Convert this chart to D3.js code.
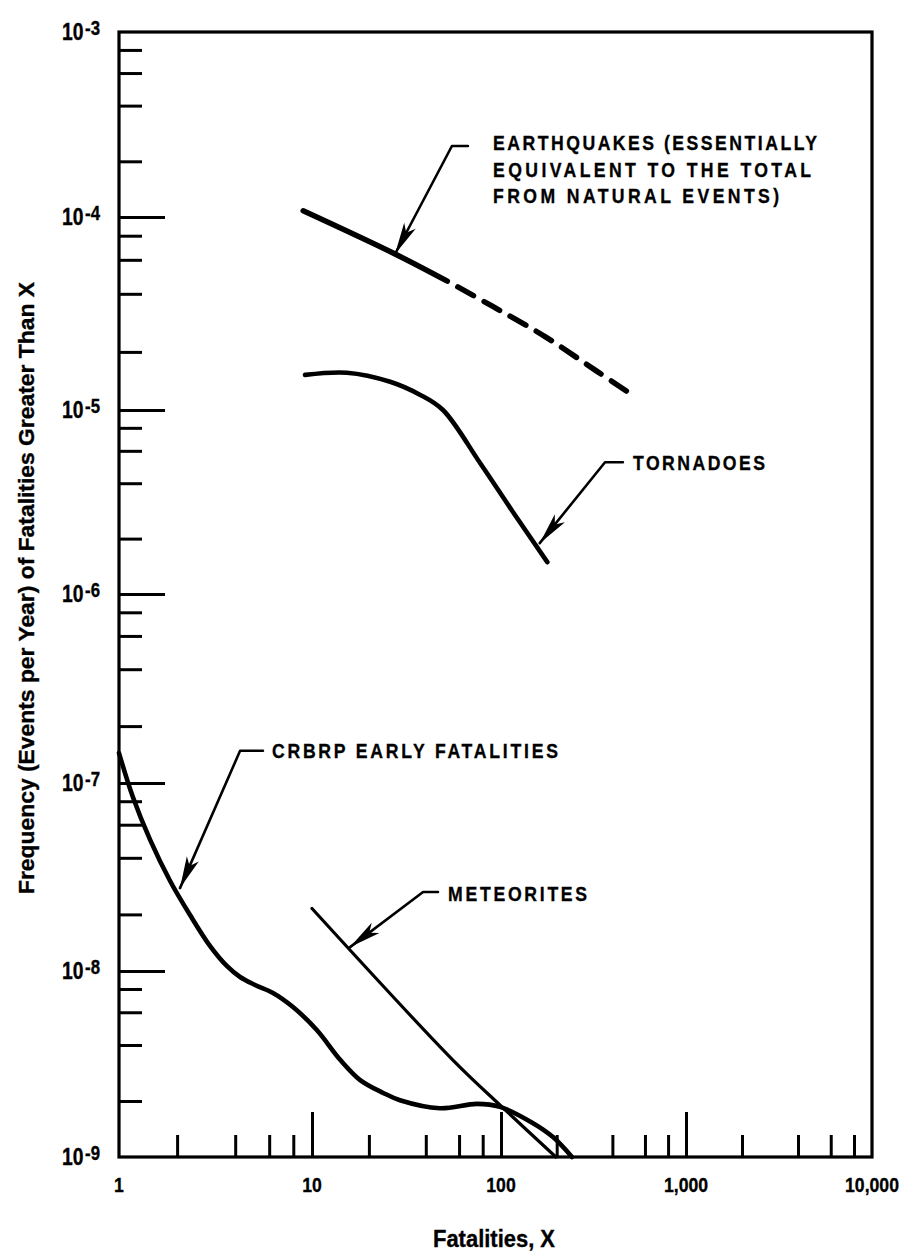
<!DOCTYPE html>
<html>
<head>
<meta charset="utf-8">
<script src="https://cdn.jsdelivr.net/npm/d3@7"></script>
<style>
  html, body { margin: 0; padding: 0; background: #fff; }
  svg { display: block; background: #fff; }
  text {
    font-family: "Liberation Sans", Arial, sans-serif;
    font-weight: bold;
    fill: #000;
    stroke: #000;
    stroke-width: 0.35px;
  }
</style>
</head>
<body>
<svg id="chart" width="918" height="1256"></svg>
<script>
// Frequency (events per year) of fatalities greater than X, by source.

// CRBRP early fatalities
const crbrpX = [1, 1.18, 1.45, 1.84, 2.33, 2.96, 3.63, 4.24, 5.07, 6.28, 7.97, 10.6, 14.1, 17.9, 23.8, 29.2, 47.5, 74.6, 98.8, 149, 191, 242];
const crbrpY = [1.44e-7, 8.42e-8, 4.98e-8, 3.01e-8, 1.99e-8, 1.36e-8, 1.06e-8, 9.28e-9, 8.41e-9, 7.62e-9, 6.4e-9, 4.82e-9, 3.33e-9, 2.6e-9, 2.21e-9, 2.02e-9, 1.83e-9, 1.93e-9, 1.86e-9, 1.52e-9, 1.28e-9, 1e-9];

// Tornadoes
const tornadoX = [9.2, 15.3, 25.9, 37.2, 49.3, 77.5, 116, 178];
const tornadoY = [1.52e-5, 1.56e-5, 1.4e-5, 1.2e-5, 1.0e-5, 5.15e-6, 2.79e-6, 1.49e-6];

// Earthquakes: solid up to quakeSolidUntil, extrapolated (dashed) beyond
const quakeX = [9, 27.5, 52, 90, 173, 326, 510];
const quakeY = [1.08e-4, 6.43e-5, 4.65e-5, 3.45e-5, 2.4e-5, 1.6e-5, 1.2e-5];
const quakeSolidUntil = 52;

// Meteorites
const meteorX = [10, 55.5, 100, 198];
const meteorY = [2.15e-8, 3.33e-9, 1.88e-9, 1e-9];

// Axis ticks
const xMajorTicks = [1, 10, 100, 1000, 10000];
const xTickLabels = ["1", "10", "100", "1,000", "10,000"];
const yMajorTicks = [1e-3, 1e-4, 1e-5, 1e-6, 1e-7, 1e-8, 1e-9];
const yExponents = ["-3", "-4", "-5", "-6", "-7", "-8", "-9"];
const minorSteps = [2, 4, 6, 8];

const svg = d3.select("#chart");

// Log scales calibrated decade by decade to the drawn grid
const x = d3.scaleLog().domain(xMajorTicks).range([119, 312, 501, 686, 872]);
const y = d3.scaleLog().domain(yMajorTicks).range([32, 217, 410, 594, 783, 971, 1157]);

const xMinor = xMajorTicks.slice(0, -1).flatMap(d => minorSteps.map(m => d * m));
const yMinor = yMajorTicks.slice(1).flatMap(d => minorSteps.map(m => d * m));

const ink = "#000";
const NARROW = 0.84;   // horizontal squeeze for the condensed lettering

// text placed at (px,py), squeezed horizontally about its anchor
function label(parent, px, py, str, size, anchor, opts = {}) {
  const g = parent.append("g")
    .attr("transform", `translate(${px},${py}) scale(${NARROW},1)`);
  const t = g.append("text")
    .attr("font-size", size)
    .attr("text-anchor", anchor || "start")
    .text(str);
  if (opts.width) {
    t.attr("textLength", opts.width / NARROW).attr("lengthAdjust", "spacing");
  }
  return t;
}

function styleAxis(g) {
  g.select(".domain").remove();
  g.selectAll(".tick line").attr("stroke", ink).attr("stroke-width", 3);
}

// bottom axis ticks (pointing up into the plot)
svg.append("g")
  .attr("transform", `translate(0,${y(1e-9)})`)
  .call(d3.axisBottom(x).tickValues(xMinor).tickSize(-22).tickFormat(""))
  .call(styleAxis);
svg.append("g")
  .attr("transform", `translate(0,${y(1e-9)})`)
  .call(d3.axisBottom(x).tickValues([10, 100, 1000]).tickSize(-45).tickFormat(""))
  .call(styleAxis);

// left axis ticks (pointing right into the plot)
svg.append("g")
  .attr("transform", `translate(${x(1)},0)`)
  .call(d3.axisLeft(y).tickValues(yMinor).tickSize(-23).tickFormat(""))
  .call(styleAxis);
svg.append("g")
  .attr("transform", `translate(${x(1)},0)`)
  .call(d3.axisLeft(y).tickValues(yMajorTicks.slice(1, -1)).tickSize(-46).tickFormat(""))
  .call(styleAxis);

// frame
svg.append("rect")
  .attr("x", x(1)).attr("y", y(1e-3))
  .attr("width", x(10000) - x(1)).attr("height", y(1e-9) - y(1e-3))
  .attr("fill", "none").attr("stroke", ink).attr("stroke-width", 3.2);

// x tick labels
const xl = svg.append("g");
xMajorTicks.forEach((d, i) => label(xl, x(d), y(1e-9) + 35, xTickLabels[i], 21, "middle"));

// y tick labels: 10 with superscript exponent
const yl = svg.append("g");
yMajorTicks.forEach((d, i) => {
  const t = label(yl, 100, y(d) + 8, "", 23, "end");
  t.append("tspan").text("10");
  t.append("tspan").attr("dx", 2).attr("dy", -5).attr("font-size", 20).text(yExponents[i]);
});

// axis titles
svg.append("text")
  .attr("x", 494).attr("y", 1247)
  .attr("text-anchor", "middle")
  .attr("font-size", 23)
  .attr("textLength", 122).attr("lengthAdjust", "spacingAndGlyphs")
  .text("Fatalities, X");

svg.append("text")
  .attr("transform", "translate(34,588) rotate(-90)")
  .attr("text-anchor", "middle")
  .attr("font-size", 22)
  .attr("textLength", 612).attr("lengthAdjust", "spacingAndGlyphs")
  .text("Frequency (Events per Year) of Fatalities Greater Than X");

// curves
const line = d3.line()
  .x(d => x(d[0]))
  .y(d => y(d[1]))
  .curve(d3.curveCatmullRom.alpha(0.5));

const zip = (a, b) => a.map((v, i) => [v, b[i]]);

const plot = svg.append("g")
  .attr("fill", "none")
  .attr("stroke", ink)
  .attr("stroke-linecap", "round")
  .attr("stroke-linejoin", "round");

plot.append("path").attr("d", line(zip(crbrpX, crbrpY))).attr("stroke-width", 4.6);
plot.append("path").attr("d", line(zip(meteorX, meteorY))).attr("stroke-width", 3.2);
plot.append("path").attr("d", line(zip(tornadoX, tornadoY))).attr("stroke-width", 4.6);

const quake = zip(quakeX, quakeY);
plot.append("path")
  .attr("d", line(quake.filter(d => d[0] <= quakeSolidUntil)))
  .attr("stroke-width", 5.5);
plot.append("path")
  .attr("d", line(quake.filter(d => d[0] >= quakeSolidUntil)))
  .attr("stroke-width", 5.5)
  .attr("stroke-dasharray", "18,12")
  .attr("stroke-dashoffset", 18);

// callouts: label, leader with elbow, arrowhead at the curve
const callouts = [
  { lines: ["EARTHQUAKES (ESSENTIALLY", "EQUIVALENT TO THE TOTAL", "FROM NATURAL EVENTS)"],
    widths: [324, 318, 286],
    tip: [27.5, 6.43e-5], bend: [55, 2.42e-4], stub: [66.8, 2.42e-4], at: [90.8, 2.3e-4] },
  { lines: ["TORNADOES"], widths: [132],
    tip: [162, 1.89e-6], bend: [365, 5.2e-6], stub: [456, 5.2e-6], at: [517, 4.72e-6] },
  { lines: ["CRBRP EARLY FATALITIES"], widths: [286],
    tip: [2.07, 2.76e-8], bend: [4.24, 1.48e-7], stub: [5.57, 1.48e-7], at: [6.2, 1.36e-7] },
  { lines: ["METEORITES"], widths: [139],
    tip: [15.9, 1.34e-8], bend: [38.7, 2.63e-8], stub: [46.4, 2.63e-8], at: [52.5, 2.36e-8] }
];

const cg = svg.append("g");
callouts.forEach(c => {
  const P = p => [x(p[0]), y(p[1])];
  const [tx, ty] = P(c.tip), [bx, by] = P(c.bend), [sx, sy] = P(c.stub);
  cg.append("path")
    .attr("d", d3.line()([[sx, sy], [bx, by], [tx, ty]]))
    .attr("fill", "none").attr("stroke", ink)
    .attr("stroke-width", 2.6).attr("stroke-linejoin", "round").attr("stroke-linecap", "round");
  const ang = Math.atan2(by - ty, bx - tx);
  const ux = Math.cos(ang), uy = Math.sin(ang), px = -uy, py = ux;
  const L = 32, W = 6.5, N = 24;
  const head = [
    [tx, ty],
    [tx + ux * L + px * W, ty + uy * L + py * W],
    [tx + ux * N, ty + uy * N],
    [tx + ux * L - px * W, ty + uy * L - py * W]
  ];
  cg.append("path").attr("d", "M" + head.join("L") + "Z").attr("fill", ink);
  const [ax, ay] = P(c.at);
  c.lines.forEach((t, i) => label(cg, ax, ay + i * 26.5, t, 21, "start", { width: c.widths[i] }));
});
</script>
</body>
</html>
